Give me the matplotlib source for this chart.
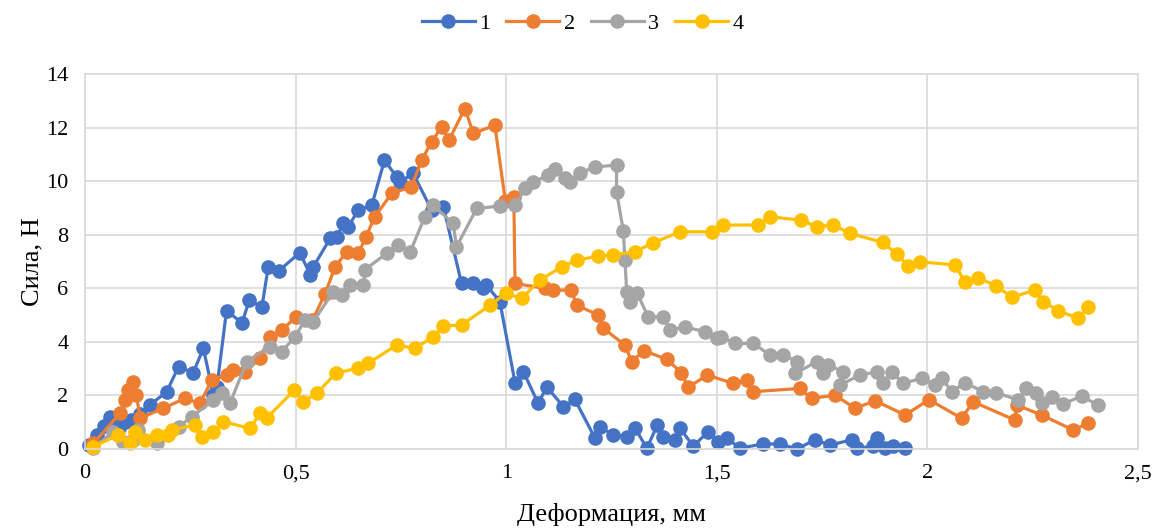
import matplotlib.pyplot as plt
from matplotlib.ticker import FuncFormatter

plt.rcParams['font.family'] = ['Liberation Serif', 'DejaVu Serif']

# Деформация (мм) и сила (Н) для четырёх образцов
x1 = [0.01, 0.028, 0.045, 0.059, 0.07, 0.08, 0.095, 0.11, 0.13, 0.154, 0.194, 0.222, 0.257, 0.281,
      0.305, 0.313, 0.336, 0.373, 0.39, 0.42, 0.435, 0.46, 0.51, 0.535, 0.542, 0.582, 0.598, 0.613,
      0.625, 0.649, 0.681, 0.711, 0.74, 0.748, 0.779, 0.823, 0.851, 0.894, 0.922, 0.944, 0.953,
      0.985, 1.021, 1.041, 1.076, 1.096, 1.136, 1.163, 1.211, 1.223, 1.254, 1.286, 1.306, 1.334,
      1.359, 1.373, 1.401, 1.413, 1.444, 1.48, 1.504, 1.524, 1.555, 1.61, 1.65, 1.69, 1.733, 1.769,
      1.82, 1.832, 1.872, 1.88, 1.9, 1.919, 1.947]
y1 = [0.15, 0.52, 0.85, 1.2, 1.15, 0.8, 1.0, 1.1, 1.3, 1.64, 2.14, 3.07, 2.85, 3.76,
      2.0, 2.3, 5.16, 4.71, 5.56, 5.3, 6.8, 6.65, 7.33, 6.5, 6.8, 7.86, 7.92, 8.42,
      8.3, 8.92, 9.1, 10.78, 10.16, 9.97, 10.29, 8.92, 9.04, 6.18, 6.18, 6.0, 6.12,
      5.5, 2.47, 2.88, 1.7, 2.32, 1.58, 1.85, 0.4, 0.83, 0.52, 0.46, 0.77, 0.03,
      0.9, 0.46, 0.34, 0.77, 0.11, 0.65, 0.27, 0.4, 0.03, 0.19, 0.19, 0.0, 0.34, 0.15,
      0.34, 0.03, 0.1, 0.4, 0.05, 0.11, 0.03]

x2 = [0.02, 0.083, 0.095, 0.103, 0.113, 0.122, 0.131, 0.186, 0.237, 0.273, 0.301, 0.336, 0.352,
      0.38, 0.415, 0.439, 0.467, 0.502, 0.54, 0.57, 0.594, 0.621, 0.649, 0.667, 0.688, 0.728,
      0.775, 0.799, 0.823, 0.847, 0.864, 0.902, 0.922, 0.973, 0.998, 1.018, 1.021, 1.092, 1.112,
      1.155, 1.167, 1.219, 1.231, 1.282, 1.298, 1.327, 1.381, 1.416, 1.432, 1.477, 1.539, 1.571,
      1.587, 1.697, 1.725, 1.781, 1.828, 1.876, 1.947, 2.004, 2.081, 2.109, 2.208, 2.212, 2.271,
      2.346, 2.382]
y2 = [0.21, 1.33, 1.83, 2.2, 2.51, 2.01, 1.15, 1.52, 1.89, 1.7, 2.57, 2.76, 2.95,
      2.88, 3.38, 4.19, 4.44, 4.94, 4.8, 5.8, 6.8, 7.36, 7.3, 7.92, 8.67, 9.54,
      9.79, 10.78, 11.47, 12.03, 11.53, 12.71, 11.78, 12.09, 9.25, 9.42, 6.18, 6.0, 5.93,
      5.93, 5.37, 5.0, 4.5, 3.88, 3.26, 3.67, 3.35, 2.85, 2.3, 2.76, 2.45, 2.57,
      2.14, 2.26, 1.89, 2.01, 1.52, 1.8, 1.27, 1.84, 1.15, 1.76, 1.08, 1.64, 1.27,
      0.71, 0.96]

x3 = [0.02, 0.067, 0.091, 0.114, 0.127, 0.17, 0.222, 0.253, 0.305, 0.325, 0.344, 0.384, 0.439,
      0.467, 0.499, 0.522, 0.542, 0.589, 0.609, 0.629, 0.661, 0.665, 0.716, 0.744, 0.772, 0.807,
      0.827, 0.874, 0.882, 0.93, 0.985, 1.021, 1.045, 1.064, 1.1, 1.116, 1.14, 1.151, 1.175, 1.211,
      1.262, 1.262, 1.278, 1.282, 1.286, 1.294, 1.31, 1.337, 1.373, 1.389, 1.424, 1.472, 1.5,
      1.511, 1.543, 1.587, 1.626, 1.658, 1.69, 1.686, 1.737, 1.753, 1.765, 1.8, 1.793, 1.84, 1.88,
      1.895, 1.915, 1.943, 1.986, 2.018, 2.034, 2.058, 2.089, 2.133, 2.164, 2.216, 2.235, 2.259,
      2.271, 2.295, 2.323, 2.366, 2.405]
y3 = [0.03, 0.65, 0.27, 0.34, 0.71, 0.21, 0.83, 1.2, 1.83, 2.08, 1.7, 3.26, 3.82,
      3.63, 4.2, 4.81, 4.75, 5.87, 5.75, 6.12, 6.12, 6.7, 7.3, 7.61, 7.36, 8.67,
      9.1, 8.42, 7.55, 8.98, 9.07, 9.1, 9.73, 9.97, 10.22, 10.47, 10.1, 9.97, 10.31, 10.53,
      10.6, 9.6, 8.15, 7.05, 5.87, 5.5, 5.84, 4.94, 4.94, 4.44, 4.56, 4.38, 4.13,
      4.19, 3.94, 3.94, 3.51, 3.51, 3.26, 2.82, 3.26, 2.82, 3.13, 2.88, 2.39, 2.76, 2.88,
      2.45, 2.88, 2.45, 2.64, 2.39, 2.64, 2.14, 2.47, 2.14, 2.1, 1.83, 2.26, 2.08,
      1.7, 1.95, 1.68, 1.98, 1.63]

x4 = [0.02, 0.079, 0.107, 0.119, 0.142, 0.17, 0.198, 0.206, 0.261, 0.277, 0.305, 0.328, 0.392,
      0.415, 0.431, 0.497, 0.518, 0.55, 0.597, 0.649, 0.672, 0.74, 0.784, 0.827, 0.851, 0.894,
      0.962, 0.999, 1.037, 1.08, 1.132, 1.167, 1.219, 1.254, 1.306, 1.349, 1.413, 1.488, 1.515,
      1.599, 1.626, 1.701, 1.737, 1.777, 1.816, 1.895, 1.927, 1.955, 1.982, 2.066, 2.089, 2.121,
      2.164, 2.2, 2.255, 2.275, 2.311, 2.358, 2.382]
y4 = [0.09, 0.52, 0.21, 0.65, 0.34, 0.52, 0.52, 0.71, 0.9, 0.46, 0.65, 1.02, 0.77,
      1.33, 1.15, 2.2, 1.76, 2.08, 2.85, 3.01, 3.2, 3.88, 3.76, 4.2, 4.59, 4.63,
      5.37, 5.81, 5.62, 6.31, 6.8, 7.05, 7.2, 7.24, 7.36, 7.7, 8.11, 8.11, 8.36,
      8.36, 8.67, 8.54, 8.3, 8.36, 8.05, 7.71, 7.28, 6.83, 6.99, 6.87, 6.24, 6.37,
      6.1, 5.66, 5.93, 5.5, 5.16, 4.88, 5.31]

series = [('1', x1, y1, '#4472C4'), ('2', x2, y2, '#ED7D31'),
          ('3', x3, y3, '#A5A5A5'), ('4', x4, y4, '#FFC000')]

fig = plt.figure(figsize=(11.54, 5.29), dpi=100)
ax = fig.add_axes([85 / 1154, 1 - 449 / 529, (1138 - 85) / 1154, (449 - 74) / 529])

for name, xs, ys, color in series:
    ax.plot(xs, ys, color=color, lw=2.3, marker='o', ms=9.5, label=name, clip_on=False)

ax.set_xlim(0, 2.5)
ax.set_ylim(0, 14)
ax.set_xticks([0, 0.5, 1, 1.5, 2, 2.5])
ax.set_yticks(range(0, 15, 2))
ax.xaxis.set_major_formatter(FuncFormatter(lambda v, p: f'{v:g}'.replace('.', ',')))
ax.tick_params(axis='x', length=0, labelsize=16, pad=11)
ax.tick_params(axis='y', length=0, labelsize=16, pad=12)
ax.grid(True, color='#d9d9d9', lw=1.2)
ax.set_axisbelow(True)
for sp in ax.spines.values():
    sp.set_color('#d9d9d9')
    sp.set_linewidth(1.2)

ax.set_xlabel('Деформация, мм', fontsize=19, labelpad=14)
ax.set_ylabel('Сила, Н', fontsize=19, labelpad=2)

fig.legend(loc='upper center', bbox_to_anchor=(0.505, 1.012), ncol=4, frameon=False,
           fontsize=16, handlelength=2.4, handletextpad=0.2, columnspacing=0.7)

fig.savefig('out.png', dpi=100)
